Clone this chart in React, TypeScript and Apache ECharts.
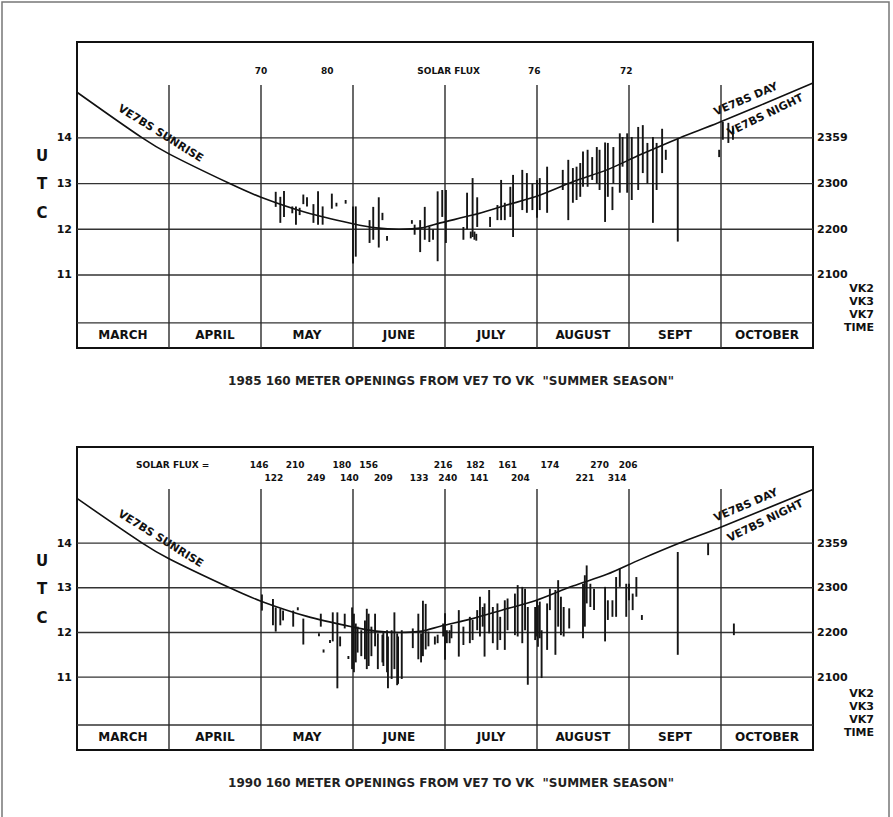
import React, { useEffect, useRef } from 'react';
import * as echarts from 'echarts';

// ---------- DATA ----------
const months = ['MARCH', 'APRIL', 'MAY', 'JUNE', 'JULY', 'AUGUST', 'SEPT', 'OCTOBER'];
const monthBoundaries = [1, 2, 3, 4, 5, 6, 7];
const utcTicks = [11, 12, 13, 14];
const localTimeLabels = ['2100', '2200', '2300', '2359'];
const vkLabels = ['VK2', 'VK3', 'VK7', 'TIME'];
const utcLetters = ['U', 'T', 'C'];

// VE7BS sunrise curve (x in months from 1 March, y in UTC hours)
const sunriseX = [0, 0.71, 1, 1.66, 2, 2.5, 3, 3.25, 3.5, 3.75, 3.95, 4.3, 4.67, 4.98, 5.39, 5.76, 6.12, 6.55, 6.97, 8];
const sunriseUTC = [15.0, 14.0, 13.65, 13.0, 12.7, 12.36, 12.12, 12.03, 12.0, 12.03, 12.14, 12.31, 12.53, 12.71, 13.04, 13.3, 13.63, 14.0, 14.33, 15.2];

// openings: [date (months from 1 March), start UTC, end UTC]
const openings1985 = [
  [2.16, 12.49, 12.82], [2.21, 12.14, 12.71], [2.25, 12.27, 12.84], [2.34, 12.35, 12.5], [2.38, 12.1, 12.5],
  [2.42, 12.31, 12.47], [2.46, 12.55, 12.76], [2.5, 12.5, 12.7], [2.57, 12.14, 12.55], [2.62, 12.1, 12.83],
  [2.67, 12.1, 12.5], [2.77, 12.45, 12.78], [2.82, 12.5, 12.58], [2.92, 12.56, 12.64], [3.0, 11.25, 12.5],
  [3.03, 11.4, 12.5], [3.18, 11.7, 12.2], [3.22, 11.77, 12.49], [3.28, 11.6, 12.7], [3.32, 12.2, 12.36],
  [3.37, 11.75, 11.85], [3.64, 12.12, 12.2], [3.67, 11.88, 12.1], [3.73, 11.5, 12.2], [3.78, 11.77, 12.49],
  [3.83, 11.72, 12.05], [3.87, 11.77, 12.0], [3.92, 11.3, 12.83], [3.97, 12.27, 12.86], [4.01, 11.7, 12.86],
  [4.2, 11.77, 12.05], [4.24, 12.0, 12.8], [4.28, 11.8, 11.95], [4.3, 11.83, 13.12], [4.32, 11.77, 11.95],
  [4.34, 11.75, 11.9], [4.35, 12.05, 12.7], [4.49, 12.05, 12.27], [4.57, 12.2, 12.53], [4.61, 12.2, 13.08],
  [4.65, 12.2, 12.58], [4.71, 12.27, 12.93], [4.74, 11.83, 13.19], [4.84, 12.42, 13.3], [4.89, 12.36, 13.23],
  [4.95, 12.42, 13.0], [5.0, 12.25, 13.08], [5.03, 12.42, 13.12], [5.11, 12.36, 13.37], [5.28, 12.86, 13.3],
  [5.34, 12.2, 13.52], [5.39, 12.58, 13.34], [5.43, 12.64, 13.37], [5.47, 12.71, 13.45], [5.5, 12.93, 13.7],
  [5.55, 12.93, 13.74], [5.6, 13.08, 13.58], [5.65, 13.0, 13.8], [5.68, 12.86, 13.74], [5.74, 12.16, 13.9],
  [5.77, 12.71, 13.89], [5.82, 12.42, 12.93], [5.83, 13.0, 13.8], [5.9, 12.8, 14.1], [5.93, 13.37, 14.02],
  [5.98, 12.8, 14.1], [6.03, 12.64, 14.02], [6.1, 12.86, 14.24], [6.15, 13.23, 14.28], [6.2, 13.0, 13.89],
  [6.26, 12.14, 14.02], [6.3, 12.86, 13.89], [6.36, 13.23, 14.2], [6.4, 13.52, 13.74], [6.53, 11.73, 14.0],
  [6.98, 13.58, 13.74], [7.02, 13.96, 14.35], [7.08, 13.89, 14.33], [7.13, 13.96, 14.22],
];

const openings1990 = [
  [2.01, 12.49, 12.85], [2.13, 12.16, 12.75], [2.16, 12.02, 12.56], [2.21, 12.16, 12.53], [2.24, 12.27, 12.49],
  [2.35, 12.13, 12.49], [2.4, 12.5, 12.56], [2.46, 11.73, 12.31], [2.63, 11.92, 11.98], [2.65, 12.13, 12.42],
  [2.68, 11.55, 11.62], [2.75, 11.77, 11.83], [2.78, 11.8, 12.45], [2.83, 10.75, 12.45], [2.86, 11.69, 11.91],
  [2.91, 12.09, 12.42], [2.95, 11.41, 11.47], [2.99, 11.18, 12.56], [3.01, 11.11, 12.42], [3.03, 11.33, 12.2],
  [3.05, 11.55, 12.13], [3.09, 11.47, 12.05], [3.13, 11.4, 12.27], [3.15, 11.18, 12.53], [3.17, 11.25, 12.42],
  [3.2, 11.47, 12.13], [3.24, 11.69, 12.42], [3.27, 11.18, 11.98], [3.32, 11.33, 11.95], [3.33, 11.25, 12.02],
  [3.37, 11.11, 12.05], [3.38, 10.75, 11.91], [3.42, 10.96, 12.05], [3.45, 11.18, 12.45], [3.48, 10.82, 11.98],
  [3.49, 10.85, 11.91], [3.53, 10.96, 12.05], [3.65, 11.65, 12.09], [3.71, 11.4, 12.42], [3.74, 11.33, 11.98],
  [3.76, 11.47, 12.71], [3.79, 11.62, 12.64], [3.82, 11.69, 12.02], [3.89, 11.73, 11.91], [3.92, 11.76, 11.95],
  [3.98, 11.91, 12.2], [4.0, 11.39, 12.43], [4.02, 11.76, 12.05], [4.05, 11.76, 12.05], [4.07, 11.87, 12.17],
  [4.15, 11.46, 12.5], [4.2, 11.72, 12.13], [4.27, 11.76, 12.35], [4.3, 11.83, 12.28], [4.35, 12.05, 12.5],
  [4.38, 11.91, 12.8], [4.41, 12.13, 12.57], [4.43, 11.46, 12.65], [4.48, 11.98, 12.95], [4.52, 11.76, 12.57],
  [4.57, 11.61, 12.65], [4.6, 11.83, 12.35], [4.65, 11.61, 12.72], [4.68, 12.05, 12.76], [4.76, 11.94, 12.87],
  [4.79, 11.91, 13.06], [4.84, 11.76, 13.02], [4.87, 12.05, 12.98], [4.9, 10.83, 12.57], [4.98, 11.83, 12.57],
  [5.0, 11.91, 12.72], [5.01, 11.68, 12.61], [5.03, 11.87, 12.69], [5.05, 10.98, 12.05], [5.11, 11.61, 12.65],
  [5.14, 12.5, 12.98], [5.2, 11.5, 12.95], [5.23, 12.13, 13.17], [5.26, 11.94, 12.8], [5.29, 11.91, 12.57],
  [5.35, 12.09, 12.54], [5.5, 11.87, 13.09], [5.52, 12.13, 13.28], [5.54, 12.65, 13.5], [5.58, 12.57, 13.09],
  [5.62, 12.5, 12.98], [5.74, 11.8, 13.02], [5.77, 12.28, 12.72], [5.82, 12.35, 12.72], [5.86, 12.35, 13.24],
  [5.9, 13.02, 13.43], [5.97, 12.35, 13.09], [6.0, 12.72, 13.09], [6.04, 12.5, 12.87], [6.08, 12.8, 13.24],
  [6.14, 12.28, 12.39], [6.53, 11.5, 13.8], [6.86, 13.73, 14.0], [7.14, 11.94, 12.2],
];

// Solar flux annotations
const fluxX1985 = [2.0, 2.72, 4.04, 4.97, 5.97];
const fluxText1985 = ['70', '80', 'SOLAR FLUX', '76', '72'];
const fluxRow1X1990 = [1.04, 1.98, 2.37, 2.88, 3.17, 3.98, 4.33, 4.68, 5.14, 5.68, 5.99];
const fluxRow1Text1990 = ['SOLAR FLUX =', '146', '210', '180', '156', '216', '182', '161', '174', '270', '206'];
const fluxRow2X1990 = [2.14, 2.6, 2.96, 3.33, 3.72, 4.03, 4.37, 4.82, 5.52, 5.87];
const fluxRow2Text1990 = ['122', '249', '140', '209', '133', '240', '141', '204', '221', '314'];

const curveNotes = ['VE7BS SUNRISE', 'VE7BS DAY', 'VE7BS NIGHT'];
const curveNoteX = [0.91, 7.27, 7.48];
const curveNoteY = [14.1, 14.85, 14.5];

const titles = [
  '1985 160 METER OPENINGS FROM VE7 TO VK  "SUMMER SEASON"',
  '1990 160 METER OPENINGS FROM VE7 TO VK  "SUMMER SEASON"',
];

// ---------- LAYOUT ----------
const INK = '#111111';
const FONT = '"DejaVu Sans", "Liberation Sans", sans-serif';

const panels = [
  {
    top: 42, height: 306, yMin: 9.40, yMax: 16.10, rowTop: 9.95, rowMid: 9.675, lineTop: 15.16,
    openings: openings1985,
    flux: [{ x: fluxX1985, t: fluxText1985, y: 15.47 }],
    titleY: 381,
  },
  {
    top: 447, height: 303, yMin: 9.37, yMax: 16.15, rowTop: 9.93, rowMid: 9.65, lineTop: 15.21,
    openings: openings1990,
    flux: [
      { x: fluxRow1X1990, t: fluxRow1Text1990, y: 15.75 },
      { x: fluxRow2X1990, t: fluxRow2Text1990, y: 15.46 },
    ],
    titleY: 783,
  },
];

function labelScatter(gi: number, data: any[], fontSize: number, extra: any = {}) {
  return {
    type: 'scatter', xAxisIndex: gi, yAxisIndex: gi * 2, silent: true,
    symbolSize: 1, data, z: 10,
    itemStyle: { color: 'rgba(0,0,0,0)', opacity: 1 },
    label: {
      show: true, position: 'inside', color: INK, opacity: 1, textBorderWidth: 0,
      fontFamily: FONT, fontWeight: 'bold',
      fontSize, formatter: (p: any) => p.data[2], ...extra,
    },
  };
}

function buildOption() {
  const grid: any[] = [];
  const xAxis: any[] = [];
  const yAxis: any[] = [];
  const series: any[] = [];
  const graphic: any[] = [
    { type: 'rect', shape: { x: 2, y: 2, width: 887, height: 840 }, style: { fill: 'none', stroke: '#777', lineWidth: 1.5 }, silent: true },
  ];

  panels.forEach((p, gi) => {
    grid.push({ left: 77, top: p.top, width: 736, height: p.height, show: true, borderColor: INK, borderWidth: 2, backgroundColor: 'transparent' });
    xAxis.push({ type: 'value', gridIndex: gi, min: 0, max: 8, show: false });
    yAxis.push({
      type: 'value', gridIndex: gi, min: p.yMin, max: p.yMax, position: 'left',
      axisLine: { show: false }, axisTick: { show: false }, splitLine: { show: false },
      axisLabel: { customValues: utcTicks, margin: 5, color: INK, fontFamily: FONT, fontWeight: 'bold', fontSize: 11 },
    });
    yAxis.push({
      type: 'value', gridIndex: gi, min: p.yMin, max: p.yMax, position: 'right',
      axisLine: { show: false }, axisTick: { show: false }, splitLine: { show: false },
      axisLabel: {
        customValues: utcTicks, margin: 4, color: INK, fontFamily: FONT, fontWeight: 'bold', fontSize: 11,
        formatter: (v: number) => localTimeLabels[utcTicks.indexOf(Math.round(v))] ?? '',
      },
    });

    // horizontal grid lines + month-row separator
    series.push({
      type: 'custom', xAxisIndex: gi, yAxisIndex: gi * 2, silent: true, z: 2,
      data: [...utcTicks, p.rowTop].map((v) => [0, v]),
      renderItem: (_: any, api: any) => {
        const a = api.coord([0, api.value(1)]);
        const b = api.coord([8, api.value(1)]);
        return { type: 'line', shape: { x1: a[0], y1: a[1], x2: b[0], y2: b[1] }, style: { stroke: '#333', lineWidth: 1.4 } };
      },
    });
    // month boundary lines
    series.push({
      type: 'custom', xAxisIndex: gi, yAxisIndex: gi * 2, silent: true, z: 2,
      data: monthBoundaries.map((m) => [m, p.lineTop]),
      renderItem: (_: any, api: any) => {
        const a = api.coord([api.value(0), api.value(1)]);
        const b = api.coord([api.value(0), p.yMin]);
        return { type: 'line', shape: { x1: a[0], y1: a[1], x2: b[0], y2: b[1] }, style: { stroke: '#2a2a2a', lineWidth: 1.4 } };
      },
    });
    // sunrise curve
    series.push({
      type: 'line', xAxisIndex: gi, yAxisIndex: gi * 2, silent: true, z: 4,
      data: sunriseX.map((x, i) => [x, sunriseUTC[i]]),
      smooth: 0.3, showSymbol: false, symbol: 'none',
      lineStyle: { color: INK, width: 1.6 },
    });
    // openings
    series.push({
      type: 'custom', xAxisIndex: gi, yAxisIndex: gi * 2, silent: true, z: 5,
      data: p.openings,
      renderItem: (_: any, api: any) => {
        const a = api.coord([api.value(0), api.value(1)]);
        const b = api.coord([api.value(0), api.value(2)]);
        let y1 = a[1];
        let y2 = b[1];
        if (y1 - y2 < 3) {
          const c = (y1 + y2) / 2;
          y1 = c + 1.5;
          y2 = c - 1.5;
        }
        return { type: 'line', shape: { x1: a[0], y1, x2: b[0], y2 }, style: { stroke: '#151515', lineWidth: 1.9 } };
      },
    });
    // month labels
    series.push(labelScatter(gi, months.map((m, i) => [i + 0.5, p.rowMid, m]), 12));
    // solar flux
    p.flux.forEach((row) => {
      series.push(labelScatter(gi, row.x.map((x, i) => [x, row.y, row.t[i]]), 9));
    });
    // curve notes
    series.push(labelScatter(gi, [[curveNoteX[0], curveNoteY[0], curveNotes[0]]], 11, { rotate: -32 }));
    series.push(labelScatter(gi, [[curveNoteX[1], curveNoteY[1], curveNotes[1]]], 11, { rotate: 23 }));
    series.push(labelScatter(gi, [[curveNoteX[2], curveNoteY[2], curveNotes[2]]], 11, { rotate: 26 }));

    // text decorations
    const dy = p.top - 42;
    utcLetters.forEach((l, i) => {
      graphic.push({
        type: 'text', x: 42, y: [156, 184, 213][i] + dy, silent: true,
        style: { text: l, font: `bold 15px ${FONT}`, fill: INK, align: 'center', verticalAlign: 'middle' },
      });
    });
    vkLabels.forEach((l, i) => {
      graphic.push({
        type: 'text', x: 874, y: 288 + dy + i * 13, silent: true,
        style: { text: l, font: `bold 11px ${FONT}`, fill: INK, align: 'right', verticalAlign: 'middle' },
      });
    });
    graphic.push({
      type: 'text', x: 451, y: p.titleY, silent: true,
      style: { text: titles[gi], font: `bold 12px ${FONT}`, fill: '#222', align: 'center', verticalAlign: 'middle' },
    });
  });

  return { animation: false, backgroundColor: '#ffffff', grid, xAxis, yAxis, series, graphic };
}

export default function App() {
  const ref = useRef<HTMLDivElement>(null);
  useEffect(() => {
    document.body.style.margin = '0';
    const chart = echarts.init(ref.current!, undefined, { renderer: 'svg' });
    chart.setOption(buildOption() as any);
    return () => chart.dispose();
  }, []);
  return <div ref={ref} style={{ width: 893, height: 817 }} />;
}
